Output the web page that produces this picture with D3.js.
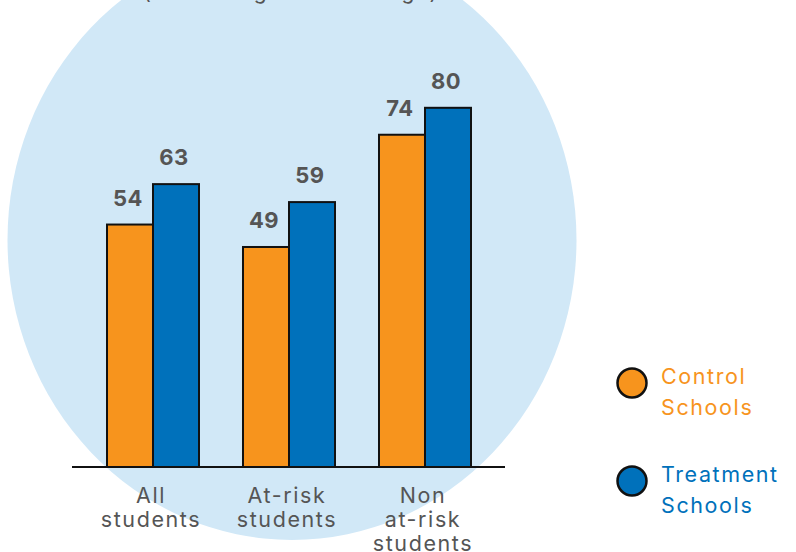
<!DOCTYPE html>
<html><head><meta charset="utf-8">
<script src="https://cdn.jsdelivr.net/npm/d3@7"></script>
<style>body{margin:0;background:#fff;}svg{display:block;}</style>
</head><body>
<svg id="c" width="796" height="552"></svg>
<script>
const categories = [["All","students"],["At-risk","students"],["Non","at-risk","students"]];
const seriesNames = ["Control Schools","Treatment Schools"];
const legendLines = [["Control","Schools"],["Treatment","Schools"]];
const control = [54, 49, 74];
const treatment = [63, 59, 80];
const colors = ["#f7941d","#0071bb"];
const title = "(exceeding state average)";

const svg = d3.select("#c");
const font = "Inter, 'Open Sans', sans-serif";

// background ellipse
svg.append("ellipse").attr("cx",292).attr("cy",240).attr("rx",284.5).attr("ry",300).attr("fill","#d1e8f7");

svg.append("text").attr("x",291).attr("y",-1).attr("text-anchor","middle")
  .attr("font-family",font).attr("font-size",21).attr("letter-spacing",1.5).attr("fill","#555").text(title);

const x0 = d3.scaleBand().domain(d3.range(categories.length)).range([107,471]).paddingInner(0.3235).paddingOuter(0);
const x1 = d3.scaleBand().domain([0,1]).range([0,x0.bandwidth()]);
const y = d3.scaleLinear().domain([0,100]).range([467,18]);

const data = categories.map((c,i)=>[control[i],treatment[i]]);

const g = svg.append("g");
data.forEach((vals,i)=>{
  vals.forEach((v,s)=>{
    const bx = x0(i)+x1(s);
    g.append("rect").attr("x",bx).attr("y",y(v)).attr("width",x1.bandwidth()).attr("height",y(0)-y(v))
      .attr("fill",colors[s]).attr("stroke","#111").attr("stroke-width",2);
    g.append("text").attr("x",bx+x1.bandwidth()/2-2).attr("y",y(v)-19).attr("text-anchor","middle")
      .attr("font-family",font).attr("font-weight","bold").attr("font-size",22).attr("letter-spacing",0.5).attr("fill","#555").text(v);
  });
  const t = g.append("text").attr("text-anchor","middle").attr("font-family",font).attr("font-size",21.5).attr("letter-spacing",1.6).attr("fill","#555");
  categories[i].forEach((line,k)=>{
    t.append("tspan").attr("x",x0(i)+x0.bandwidth()/2-2).attr("y",503+k*24).text(line);
  });
});

svg.append("line").attr("x1",72).attr("x2",505).attr("y1",y(0)).attr("y2",y(0)).attr("stroke","#111").attr("stroke-width",2);

// legend
const ly = [383,481];
seriesNames.forEach((n,s)=>{
  svg.append("circle").attr("cx",632).attr("cy",ly[s]).attr("r",14.5).attr("fill",colors[s]).attr("stroke","#111").attr("stroke-width",2.5);
  const t = svg.append("text").attr("font-family",font).attr("font-size",21.5).attr("letter-spacing",1.6).attr("fill",colors[s]);
  legendLines[s].forEach((line,k)=>{
    t.append("tspan").attr("x",661).attr("y",ly[s]+1+k*31).text(line);
  });
});
</script>
</body></html>
